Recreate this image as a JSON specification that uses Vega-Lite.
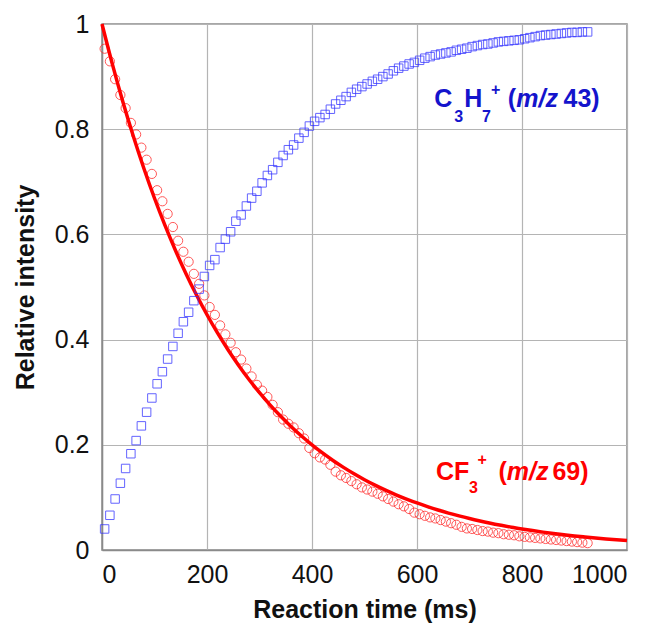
{
  "$schema": "https://vega.github.io/schema/vega-lite/v6.json",
  "autosize": {"type": "none"},
  "padding": {"left": 102, "top": 24, "right": 30, "bottom": 74},
  "width": 525,
  "height": 526,
  "background": "white",
  "config": {
    "font": "Liberation Sans",
    "view": {"stroke": "#8a8a8a", "strokeWidth": 1.5},
    "axis": {
      "labelFont": "Liberation Sans",
      "labelFontSize": 25,
      "labelColor": "#111111",
      "titleFont": "Liberation Sans",
      "titleFontSize": 25,
      "titleFontWeight": "bold",
      "titleColor": "#111111",
      "gridColor": "#b4b4b4",
      "gridWidth": 1.2,
      "domainColor": "#8a8a8a",
      "domainWidth": 1.5,
      "ticks": false,
      "tickSize": 0
    }
  },
  "datasets": {
    "cf3": [
      {"t":5,"v":0.953},{"t":15,"v":0.929},{"t":25,"v":0.895},{"t":35,"v":0.865},{"t":45,"v":0.840},{"t":55,"v":0.812},{"t":65,"v":0.790},{"t":75,"v":0.765},{"t":85,"v":0.742},{"t":95,"v":0.715},
      {"t":105,"v":0.684},{"t":115,"v":0.663},{"t":125,"v":0.639},{"t":135,"v":0.614},{"t":145,"v":0.588},{"t":155,"v":0.567},{"t":165,"v":0.548},{"t":175,"v":0.525},{"t":185,"v":0.506},{"t":195,"v":0.484},
      {"t":205,"v":0.462},{"t":215,"v":0.447},{"t":225,"v":0.427},{"t":235,"v":0.410},{"t":245,"v":0.394},{"t":255,"v":0.376},{"t":265,"v":0.362},{"t":275,"v":0.345},{"t":285,"v":0.330},{"t":295,"v":0.314},
      {"t":305,"v":0.303},{"t":315,"v":0.291},{"t":325,"v":0.276},{"t":335,"v":0.262},{"t":345,"v":0.248},{"t":355,"v":0.240},{"t":365,"v":0.233},{"t":375,"v":0.222},{"t":385,"v":0.212},{"t":395,"v":0.194},
      {"t":405,"v":0.184},{"t":415,"v":0.176},{"t":425,"v":0.172},{"t":435,"v":0.162},{"t":445,"v":0.149},{"t":455,"v":0.142},{"t":465,"v":0.137},{"t":475,"v":0.131},{"t":485,"v":0.125},{"t":495,"v":0.119},
      {"t":505,"v":0.115},{"t":515,"v":0.111},{"t":525,"v":0.107},{"t":535,"v":0.102},{"t":545,"v":0.097},{"t":555,"v":0.092},{"t":565,"v":0.087},{"t":575,"v":0.083},{"t":585,"v":0.078},{"t":595,"v":0.071},
      {"t":605,"v":0.068},{"t":615,"v":0.065},{"t":625,"v":0.062},{"t":635,"v":0.060},{"t":645,"v":0.057},{"t":655,"v":0.054},{"t":665,"v":0.051},{"t":675,"v":0.048},{"t":685,"v":0.044},{"t":695,"v":0.041},
      {"t":705,"v":0.040},{"t":715,"v":0.038},{"t":725,"v":0.036},{"t":735,"v":0.035},{"t":745,"v":0.033},{"t":755,"v":0.032},{"t":765,"v":0.030},{"t":775,"v":0.029},{"t":785,"v":0.028},{"t":795,"v":0.026},
      {"t":805,"v":0.025},{"t":815,"v":0.024},{"t":825,"v":0.023},{"t":835,"v":0.022},{"t":845,"v":0.021},{"t":855,"v":0.020},{"t":865,"v":0.019},{"t":875,"v":0.018},{"t":885,"v":0.017},{"t":895,"v":0.016},
      {"t":905,"v":0.015},{"t":915,"v":0.014},{"t":925,"v":0.013}
    ],
    "c3h7": [
      {"t":5,"v":0.040},{"t":15,"v":0.066},{"t":25,"v":0.097},{"t":35,"v":0.127},{"t":45,"v":0.155},{"t":55,"v":0.183},{"t":65,"v":0.208},{"t":75,"v":0.236},{"t":85,"v":0.262},{"t":95,"v":0.289},
      {"t":105,"v":0.316},{"t":115,"v":0.339},{"t":125,"v":0.363},{"t":135,"v":0.387},{"t":145,"v":0.412},{"t":155,"v":0.434},{"t":165,"v":0.452},{"t":175,"v":0.474},{"t":185,"v":0.496},{"t":195,"v":0.520},
      {"t":205,"v":0.541},{"t":215,"v":0.552},{"t":225,"v":0.575},{"t":235,"v":0.591},{"t":245,"v":0.605},{"t":255,"v":0.625},{"t":265,"v":0.637},{"t":275,"v":0.654},{"t":285,"v":0.669},{"t":295,"v":0.682},
      {"t":305,"v":0.698},{"t":315,"v":0.712},{"t":325,"v":0.723},{"t":335,"v":0.737},{"t":345,"v":0.750},{"t":355,"v":0.761},{"t":365,"v":0.770},{"t":375,"v":0.783},{"t":385,"v":0.794},{"t":395,"v":0.806},
      {"t":405,"v":0.815},{"t":415,"v":0.822},{"t":425,"v":0.828},{"t":435,"v":0.838},{"t":445,"v":0.848},{"t":455,"v":0.855},{"t":465,"v":0.862},{"t":475,"v":0.870},{"t":485,"v":0.876},{"t":495,"v":0.881},
      {"t":505,"v":0.886},{"t":515,"v":0.891},{"t":525,"v":0.895},{"t":535,"v":0.900},{"t":545,"v":0.905},{"t":555,"v":0.911},{"t":565,"v":0.916},{"t":575,"v":0.920},{"t":585,"v":0.924},{"t":595,"v":0.927},
      {"t":605,"v":0.931},{"t":615,"v":0.935},{"t":625,"v":0.938},{"t":635,"v":0.941},{"t":645,"v":0.943},{"t":655,"v":0.945},{"t":665,"v":0.947},{"t":675,"v":0.950},{"t":685,"v":0.952},{"t":695,"v":0.954},
      {"t":705,"v":0.957},{"t":715,"v":0.959},{"t":725,"v":0.961},{"t":735,"v":0.962},{"t":745,"v":0.964},{"t":755,"v":0.966},{"t":765,"v":0.967},{"t":775,"v":0.968},{"t":785,"v":0.969},{"t":795,"v":0.970},
      {"t":805,"v":0.972},{"t":815,"v":0.974},{"t":825,"v":0.976},{"t":835,"v":0.978},{"t":845,"v":0.979},{"t":855,"v":0.980},{"t":865,"v":0.981},{"t":875,"v":0.982},{"t":885,"v":0.983},{"t":895,"v":0.984},
      {"t":905,"v":0.984},{"t":915,"v":0.985},{"t":925,"v":0.985}
    ],
    "fit": [
      {"t":0,"v":1.0},{"t":20,"v":0.9227},{"t":40,"v":0.8513},{"t":60,"v":0.7855},{"t":80,"v":0.7248},{"t":100,"v":0.6687},{"t":120,"v":0.617},{"t":140,"v":0.5693},{"t":160,"v":0.5253},{"t":180,"v":0.4847},
      {"t":200,"v":0.4472},{"t":220,"v":0.4126},{"t":240,"v":0.3807},{"t":260,"v":0.3513},{"t":280,"v":0.3241},{"t":300,"v":0.2991},{"t":320,"v":0.2759},{"t":340,"v":0.2546},{"t":360,"v":0.2349},{"t":380,"v":0.2167},
      {"t":400,"v":0.2},{"t":420,"v":0.1845},{"t":440,"v":0.1702},{"t":460,"v":0.1571},{"t":480,"v":0.1449},{"t":500,"v":0.1337},{"t":520,"v":0.1234},{"t":540,"v":0.1138},{"t":560,"v":0.105},{"t":580,"v":0.0969},
      {"t":600,"v":0.0894},{"t":620,"v":0.0825},{"t":640,"v":0.0761},{"t":660,"v":0.0702},{"t":680,"v":0.0648},{"t":700,"v":0.0598},{"t":720,"v":0.0552},{"t":740,"v":0.0509},{"t":760,"v":0.047},{"t":780,"v":0.0433},
      {"t":800,"v":0.04},{"t":820,"v":0.0369},{"t":840,"v":0.034},{"t":860,"v":0.0314},{"t":880,"v":0.029},{"t":900,"v":0.0267},{"t":920,"v":0.0247},{"t":940,"v":0.0228},{"t":960,"v":0.021},{"t":980,"v":0.0194},{"t":1000,"v":0.0179}
    ],
    "labelMain": [
      {"t":633,"v":0.842,"text":"C","series":"C3H7+"},
      {"t":690,"v":0.842,"text":"H","series":"C3H7+"},
      {"t":773,"v":0.842,"text":"(","series":"C3H7+"},
      {"t":879,"v":0.842,"text":"43)","series":"C3H7+"},
      {"t":636,"v":0.133,"text":"CF","series":"CF3+"},
      {"t":755,"v":0.133,"text":"(","series":"CF3+"},
      {"t":858,"v":0.133,"text":"69)","series":"CF3+"}
    ],
    "labelItalic": [
      {"t":789,"v":0.842,"text":"m/z","series":"C3H7+"},
      {"t":771,"v":0.133,"text":"m/z","series":"CF3+"}
    ],
    "labelSub": [
      {"t":671,"v":0.814,"text":"3","series":"C3H7+"},
      {"t":724,"v":0.814,"text":"7","series":"C3H7+"},
      {"t":699,"v":0.108,"text":"3","series":"CF3+"}
    ],
    "labelSup": [
      {"t":741,"v":0.865,"text":"+","series":"C3H7+"},
      {"t":715,"v":0.162,"text":"+","series":"CF3+"}
    ]
  },
  "encoding": {
    "x": {
      "field": "t", "type": "quantitative",
      "scale": {"domain": [0, 1000], "nice": false},
      "axis": {
        "title": "Reaction time (ms)",
        "values": [0, 200, 400, 600, 800, 1000],
        "format": "d",
        "labelPadding": 12,
        "titleBaseline": "alphabetic",
        "titleY": 67
      }
    },
    "y": {
      "field": "v", "type": "quantitative",
      "scale": {"domain": [0, 1], "nice": false},
      "axis": {
        "title": "Relative intensity",
        "values": [0, 0.2, 0.4, 0.6, 0.8, 1],
        "format": "~g",
        "labelPadding": 13,
        "titleAngle": -90,
        "titleBaseline": "alphabetic",
        "titleX": -69,
        "titleY": 263
      }
    }
  },
  "layer": [
    {
      "data": {"name": "cf3"},
      "mark": {"type": "point", "shape": "circle", "filled": false, "size": 85, "strokeWidth": 1, "color": "#ff2020", "opacity": 0.75}
    },
    {
      "data": {"name": "fit"},
      "mark": {"type": "line", "color": "#ff0000", "strokeWidth": 3.5, "interpolate": "monotone"}
    },
    {
      "data": {"name": "c3h7"},
      "mark": {"type": "point", "shape": "square", "filled": false, "size": 72, "strokeWidth": 1, "color": "#3030ff", "opacity": 0.75}
    },
    {
      "data": {"name": "labelMain"},
      "mark": {"type": "text", "align": "left", "baseline": "alphabetic", "fontSize": 25, "fontWeight": "bold", "font": "Liberation Sans"},
      "encoding": {
        "text": {"field": "text"},
        "color": {"field": "series", "type": "nominal", "scale": {"domain": ["CF3+", "C3H7+"], "range": ["#ff0000", "#1414cc"]}, "legend": null}
      }
    },
    {
      "data": {"name": "labelItalic"},
      "mark": {"type": "text", "align": "left", "baseline": "alphabetic", "fontSize": 25, "fontWeight": "bold", "fontStyle": "italic", "font": "Liberation Sans"},
      "encoding": {
        "text": {"field": "text"},
        "color": {"field": "series", "type": "nominal", "scale": {"domain": ["CF3+", "C3H7+"], "range": ["#ff0000", "#1414cc"]}, "legend": null}
      }
    },
    {
      "data": {"name": "labelSub"},
      "mark": {"type": "text", "align": "left", "baseline": "alphabetic", "fontSize": 16, "fontWeight": "bold", "font": "Liberation Sans"},
      "encoding": {
        "text": {"field": "text"},
        "color": {"field": "series", "type": "nominal", "scale": {"domain": ["CF3+", "C3H7+"], "range": ["#ff0000", "#1414cc"]}, "legend": null}
      }
    },
    {
      "data": {"name": "labelSup"},
      "mark": {"type": "text", "align": "left", "baseline": "alphabetic", "fontSize": 16, "fontWeight": "bold", "font": "Liberation Sans"},
      "encoding": {
        "text": {"field": "text"},
        "color": {"field": "series", "type": "nominal", "scale": {"domain": ["CF3+", "C3H7+"], "range": ["#ff0000", "#1414cc"]}, "legend": null}
      }
    }
  ]
}
